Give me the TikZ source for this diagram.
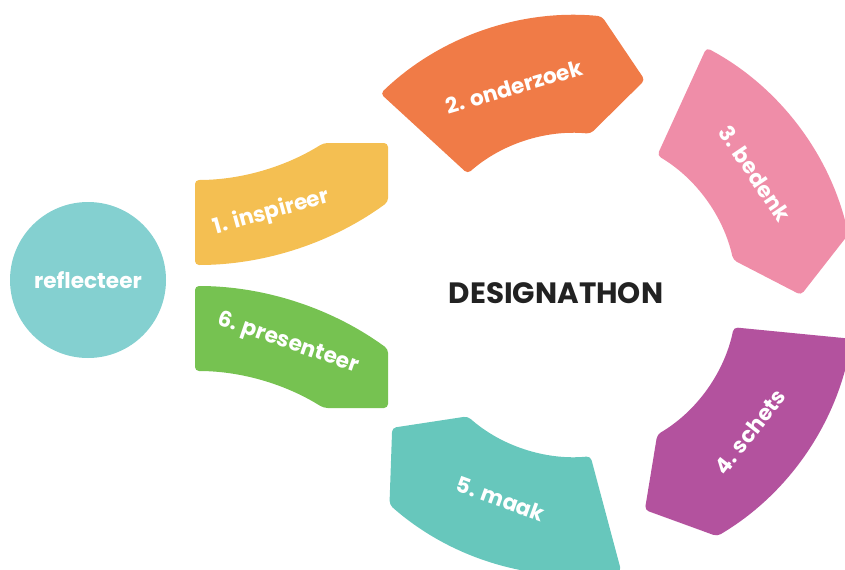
\documentclass[tikz,border=0pt]{standalone}
\usepackage{fontspec}
\setmainfont{Poppins}
\usetikzlibrary{calc}
\definecolor{reflectcolor}{HTML}{84D0D0}
\definecolor{yellowcolor}{HTML}{F4BF52}
\definecolor{orangecolor}{HTML}{F07B47}
\definecolor{pinkcolor}{HTML}{EF8DA8}
\definecolor{purplecolor}{HTML}{B3529E}
\definecolor{tealcolor}{HTML}{67C7BC}
\definecolor{greencolor}{HTML}{76C251}
\definecolor{titlecolor}{HTML}{222222}
\tikzset{phaselabel/.style={text=white, font=\bfseries\fontsize{10.8}{12}\selectfont}}

\begin{document}
\begin{tikzpicture}[x=0.5pt,y=0.5pt]
          \clip (0,0) rectangle (845,569);
          \coordinate (Centre) at (575,274);
          \coordinate (TopCentre) at (195,631);
          \coordinate (BottomCentre) at (195,-44);

          \node[circle, fill=reflectcolor, minimum size=78pt, phaselabel] (Reflecteer) at (88,289) {reflecteer};

          \fill[yellowcolor, rounded corners=2pt] (195,304) arc[start angle=-90, end angle=-53.8, radius=327] -- (388,426) -- (323.6,426) arc[start angle=-57.9, end angle=-90, radius=242] -- cycle;
          \fill[greencolor, rounded corners=2pt] (195,283) arc[start angle=90, end angle=53.8, radius=327] -- (388,161) -- (323.6,161) arc[start angle=57.9, end angle=90, radius=242] -- cycle;

          \fill[orangecolor, rounded corners=2pt] ($(Centre)+(134:280)$) arc[start angle=134, end angle=84.5, radius=280] -- ($(Centre)+(72:226)$) -- ($(Centre)+(84.5:162)$) arc[start angle=84.5, end angle=131.5, radius=162] -- cycle;
          \fill[pinkcolor, rounded corners=2pt] ($(Centre)+(62:280)$) arc[start angle=62, end angle=12.5, radius=280] -- ($(Centre)+(0:226)$) -- ($(Centre)+(12.5:162)$) arc[start angle=12.5, end angle=59.5, radius=162] -- cycle;
          \fill[purplecolor, rounded corners=2pt] ($(Centre)+(-9:280)$) arc[start angle=-9, end angle=-59.5, radius=280] -- ($(Centre)+(-72:226)$) -- ($(Centre)+(-59.5:162)$) arc[start angle=-59.5, end angle=-11.5, radius=162] -- cycle;
          \fill[tealcolor, rounded corners=2pt] ($(Centre)+(-80.5:280)$) arc[start angle=-80.5, end angle=-131.5, radius=280] -- ($(Centre)+(-144:226)$) -- ($(Centre)+(-131.5:162)$) arc[start angle=-131.5, end angle=-84.5, radius=162] -- cycle;

          \node[phaselabel, rotate=15.6] (Inspireer) at ($(TopCentre)+(-74.4:285)$) {1. inspireer};
          \node[phaselabel, rotate=16.3] (Onderzoek) at ($(Centre)+(106.3:217)$) {2. onderzoek};
          \node[phaselabel, rotate=-56] (Bedenk) at ($(Centre)+(34:217)$) {3. bedenk};
          \node[phaselabel, rotate=52] (Schets) at ($(Centre)+(-38:222)$) {4. schets};
          \node[phaselabel, rotate=-20] (Maak) at ($(Centre)+(-110:217)$) {5. maak};
          \node[phaselabel, rotate=-19] (Presenteer) at ($(BottomCentre)+(71:285)$) {6. presenteer};

          \node[text=titlecolor, font=\bfseries\fontsize{14.7}{16}\selectfont] (Designathon) at (556,276) {DESIGNATHON};
        \end{tikzpicture}
\end{document}
